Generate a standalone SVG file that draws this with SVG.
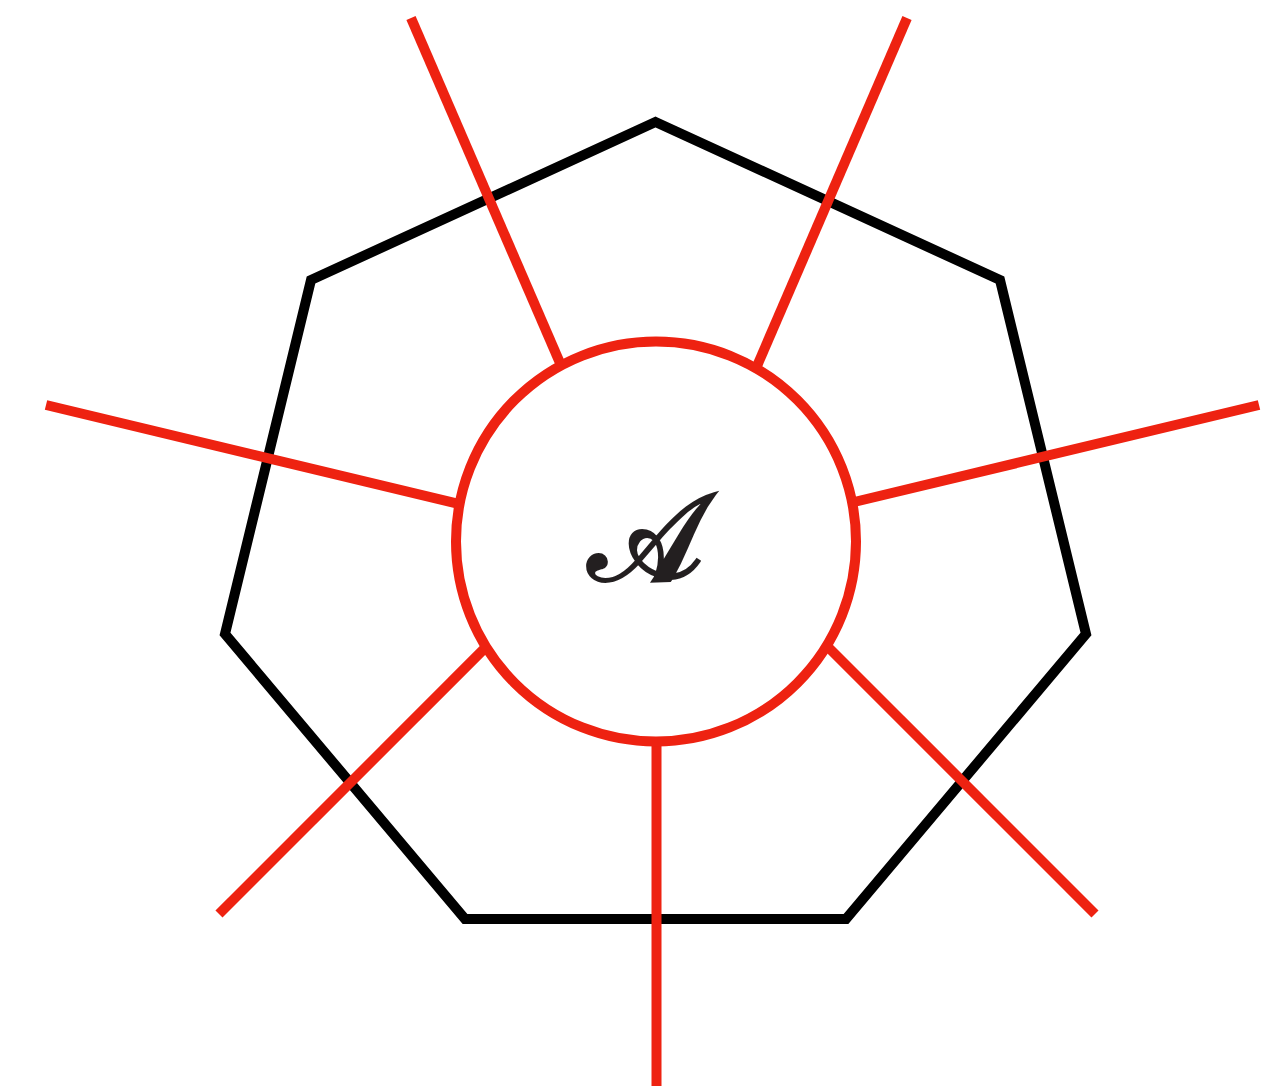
<svg xmlns="http://www.w3.org/2000/svg" width="1281" height="1086" viewBox="0 0 1281 1086">
<style>
.hept{fill:none;stroke:#000;stroke-width:10;stroke-linejoin:miter}
.leg{stroke:#ee2211;stroke-width:10;stroke-linecap:butt;fill:none}
.blob{fill:#fff;stroke:#ee2211;stroke-width:10}
.lbl{font-family:"DejaVu Serif","Liberation Serif",serif;font-size:122px;font-weight:bold;fill:#231f20}
</style>
<rect width="1281" height="1086" fill="#fff"/>
<g id="heptagon">
<polygon class="hept" points="655.5,122 1000,280 1086,634 846,919 465,919 225,634 311,280"/>
</g>
<g id="connectors">
<line class="leg" x1="411" y1="18" x2="561.1" y2="365.6"/>
<line class="leg" x1="907" y1="18" x2="756" y2="368.4"/>
<line class="leg" x1="46" y1="405" x2="459.6" y2="504.1"/>
<line class="leg" x1="1259" y1="405" x2="852.1" y2="502.5"/>
<line class="leg" x1="219" y1="914" x2="486.1" y2="646.9"/>
<line class="leg" x1="1095" y1="914" x2="826.7" y2="645.7"/>
<line class="leg" x1="656.5" y1="741.5" x2="656.5" y2="1086"/>
</g>
<g id="node-A">
<circle class="blob" cx="656" cy="541.5" r="200"/>
<text class="lbl" x="645" y="580" text-anchor="middle">𝒜</text>
</g>
</svg>
